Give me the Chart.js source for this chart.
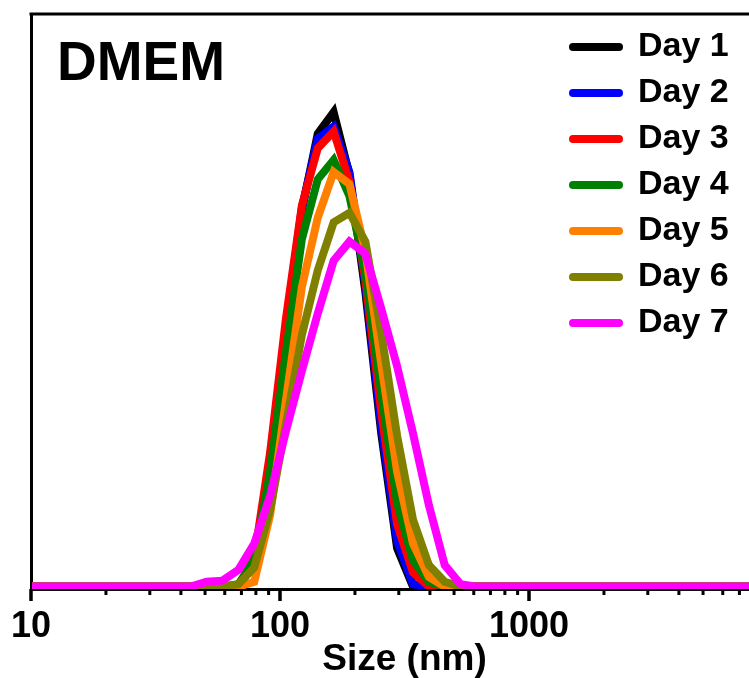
<!DOCTYPE html>
<html lang="en">
<head>
    <meta charset="UTF-8">
    <title>DMEM size distribution</title>
    <script src="https://cdn.jsdelivr.net/npm/chart.js"></script>
    <style>
        html, body { margin: 0; padding: 0; overflow: hidden; background: #fff; }
    </style>
</head>
<body>
    <canvas id="chart" width="780" height="678"></canvas>

    <script>
        // size bins (nm), DLS instrument bins
        const sizes = [10.10, 11.70, 13.54, 15.69, 18.17, 21.04, 24.36, 28.21, 32.67, 37.84,
            43.82, 50.75, 58.77, 68.06, 78.82, 91.28, 105.7, 122.4, 141.8, 164.2,
            190.1, 220.2, 255.0, 295.3, 342.0, 396.1, 458.7, 531.2, 615.1, 712.4,
            825.0, 955.4, 1106, 1281, 1484, 1718, 1990, 2305, 2669, 3091,
            3580, 4145, 4801, 5560, 6439, 7456, 8635, 10000];

        const day1 = [0, 0, 0, 0, 0, 0, 0, 0, 0, 0,
            0, 0, 0, 0, 1.0, 5.2, 10.8, 15.7, 18.9, 19.8,
            17.2, 12.3, 6.4, 1.6, 0, 0, 0, 0, 0, 0,
            0, 0, 0, 0, 0, 0, 0, 0, 0, 0, 0, 0, 0, 0, 0, 0, 0, 0];
        const day2 = [0, 0, 0, 0, 0, 0, 0, 0, 0, 0,
            0, 0, 0, 0, 1.0, 5.3, 10.9, 15.8, 18.7, 19.2,
            17.3, 12.6, 6.7, 1.9, 0.1, 0, 0, 0, 0, 0,
            0, 0, 0, 0, 0, 0, 0, 0, 0, 0, 0, 0, 0, 0, 0, 0, 0, 0];
        const day3 = [0, 0, 0, 0, 0, 0, 0, 0, 0, 0,
            0, 0, 0, 0, 1.2, 5.6, 11.2, 15.9, 18.3, 19.0,
            16.9, 12.8, 7.3, 2.6, 0.6, 0, 0, 0, 0, 0,
            0, 0, 0, 0, 0, 0, 0, 0, 0, 0, 0, 0, 0, 0, 0, 0, 0, 0];
        const day4 = [0, 0, 0, 0, 0, 0, 0, 0, 0, 0,
            0, 0, 0, 0.1, 1.1, 4.8, 9.8, 14.5, 17.0, 17.8,
            16.3, 13.1, 8.1, 3.5, 1.1, 0.2, 0, 0, 0, 0,
            0, 0, 0, 0, 0, 0, 0, 0, 0, 0, 0, 0, 0, 0, 0, 0, 0, 0];
        const day5 = [0, 0, 0, 0, 0, 0, 0, 0, 0, 0,
            0, 0, 0, 0, 0.2, 3.0, 7.8, 12.5, 15.4, 17.3,
            16.8, 14.0, 9.3, 4.8, 1.8, 0.4, 0, 0, 0, 0,
            0, 0, 0, 0, 0, 0, 0, 0, 0, 0, 0, 0, 0, 0, 0, 0, 0, 0];
        const day6 = [0, 0, 0, 0, 0, 0, 0, 0, 0, 0,
            0, 0, 0, 0.1, 0.8, 3.2, 6.8, 10.5, 13.2, 15.2,
            15.6, 14.4, 10.6, 6.3, 2.8, 0.9, 0.2, 0, 0, 0,
            0, 0, 0, 0, 0, 0, 0, 0, 0, 0, 0, 0, 0, 0, 0, 0, 0, 0];
        const day7 = [0, 0, 0, 0, 0, 0, 0, 0, 0, 0,
            0, 0.2, 0.25, 0.7, 1.8, 3.8, 6.5, 9.0, 11.4, 13.6,
            14.4, 13.9, 11.6, 9.2, 6.4, 3.4, 0.9, 0.1, 0, 0,
            0, 0, 0, 0, 0, 0, 0, 0, 0, 0, 0, 0, 0, 0, 0, 0, 0, 0];

        const seriesNames = ['Day 1', 'Day 2', 'Day 3', 'Day 4', 'Day 5', 'Day 6', 'Day 7'];
        const seriesData = [day1, day2, day3, day4, day5, day6, day7];
        const seriesColors = ['#000000', '#0000ff', '#ff0000', '#008000', '#ff8000', '#808000', '#ff00ff'];

        const majorTicks = [10, 100, 1000, 10000];
        const tickLabels = ['10', '100', '1000', ''];

        const fontFamily = '"Liberation Sans", Arial, sans-serif';

        // all decade ticks 10..10000 (1-9 x decade)
        const xTicks = [];
        for (let d = 0; d < majorTicks.length - 1; d++) {
            for (let m = 1; m < 10; m++) xTicks.push(majorTicks[d] * m);
        }
        xTicks.push(majorTicks[majorTicks.length - 1]);

        const frame = {
            id: 'frame',
            afterDraw(chart) {
                const ctx = chart.ctx;
                const area = chart.chartArea;
                const xs = chart.scales.x;
                ctx.save();
                // top border
                ctx.strokeStyle = '#000';
                ctx.lineWidth = 3;
                ctx.beginPath();
                ctx.moveTo(area.left - 1.5, area.top);
                ctx.lineTo(area.right, area.top);
                ctx.stroke();

                // tick marks, long for decades, short otherwise
                xTicks.forEach(v => {
                    const px = xs.getPixelForValue(v);
                    const major = majorTicks.includes(v);
                    ctx.lineWidth = major ? 3.5 : 3;
                    ctx.beginPath();
                    ctx.moveTo(px, area.bottom);
                    ctx.lineTo(px, area.bottom + (major ? 12 : 6));
                    ctx.stroke();
                });

                // panel label
                ctx.fillStyle = '#000';
                ctx.font = 'bold 55px ' + fontFamily;
                ctx.textBaseline = 'alphabetic';
                ctx.textAlign = 'left';
                ctx.fillText('DMEM', 57, 80);

                // legend
                ctx.font = 'bold 34px ' + fontFamily;
                ctx.textBaseline = 'middle';
                chart.data.datasets.forEach((ds, i) => {
                    const y = 47 + i * 46;
                    ctx.strokeStyle = ds.borderColor;
                    ctx.lineWidth = 8;
                    ctx.lineCap = 'round';
                    ctx.beginPath();
                    ctx.moveTo(573, y);
                    ctx.lineTo(619, y);
                    ctx.stroke();
                    ctx.fillText(ds.label, 638, y);
                });
                ctx.restore();
            }
        };

        const ctx = document.getElementById('chart').getContext('2d');
        new Chart(ctx, {
            type: 'line',
            data: {
                datasets: seriesNames.map((name, i) => ({
                    label: name,
                    data: sizes.map((s, j) => ({ x: s, y: seriesData[i][j] })),
                    borderColor: seriesColors[i],
                    backgroundColor: seriesColors[i],
                    borderWidth: 8,
                    pointRadius: 0,
                    tension: 0,
                    fill: false,
                    order: seriesNames.length - i
                }))
            },
            options: {
                responsive: false,
                animation: false,
                layout: { padding: { left: 31, top: 14, right: 2, bottom: 0 } },
                scales: {
                    x: {
                        type: 'logarithmic',
                        min: 10,
                        max: 10000,
                        afterBuildTicks: axis => {
                            axis.ticks = xTicks.map(v => ({ value: v, major: majorTicks.includes(v) }));
                        },
                        afterFit: scale => {
                            scale.height = 89;
                            scale.paddingLeft = 0;
                            scale.paddingRight = 0;
                        },
                        grid: { display: false, drawTicks: false },
                        border: { display: true, color: '#000', width: 3 },
                        ticks: {
                            autoSkip: false,
                            maxRotation: 0,
                            padding: 16,
                            color: '#000',
                            font: { family: fontFamily, size: 36, weight: 'bold' },
                            callback: v => {
                                const k = majorTicks.indexOf(v);
                                return k >= 0 ? tickLabels[k] : '';
                            }
                        },
                        title: {
                            display: true,
                            text: 'Size (nm)',
                            color: '#000',
                            padding: { top: 0, bottom: 0 },
                            font: { family: fontFamily, size: 37, weight: 'bold', lineHeight: 1.0 }
                        }
                    },
                    y: {
                        min: -0.1,
                        max: 23.9,
                        afterFit: scale => { scale.width = 0; },
                        grid: { display: false, drawTicks: false },
                        border: { display: true, color: '#000', width: 3 },
                        ticks: { display: false }
                    }
                },
                plugins: {
                    legend: { display: false },
                    tooltip: { enabled: false }
                }
            },
            plugins: [frame]
        });
    </script>
</body>
</html>
